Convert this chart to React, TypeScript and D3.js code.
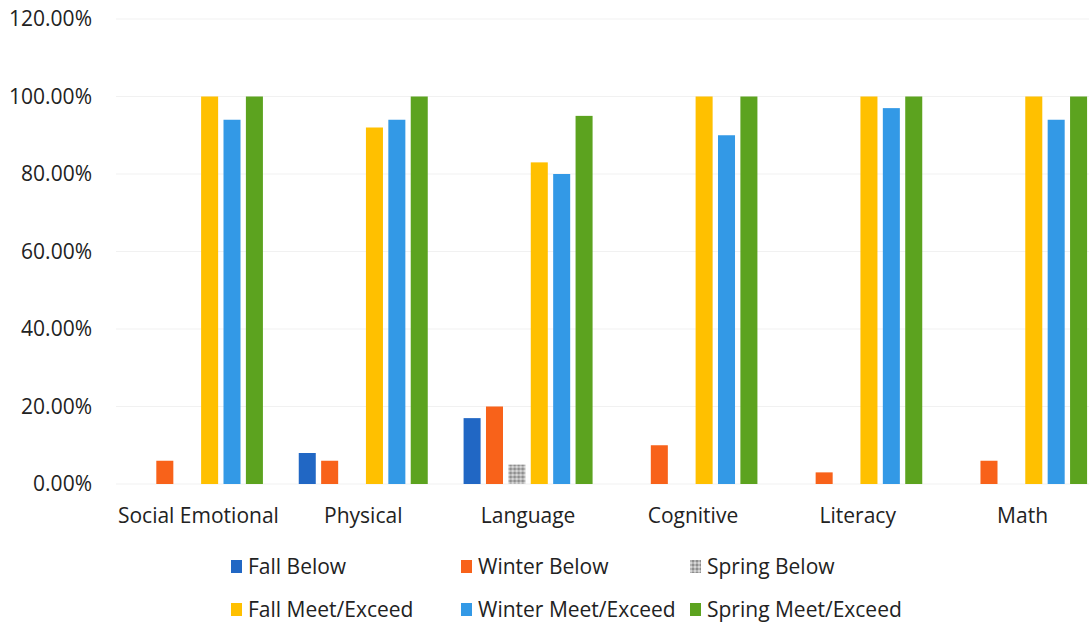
import React from "react";
import * as d3 from "d3";

// Assessment results by domain, share of children per season
const categories = ["Social Emotional", "Physical", "Language", "Cognitive", "Literacy", "Math"];
const seriesNames = [
  "Fall Below",
  "Winter Below",
  "Spring Below",
  "Fall Meet/Exceed",
  "Winter Meet/Exceed",
  "Spring Meet/Exceed",
];
const fallBelow = [0, 0.08, 0.17, 0, 0, 0];
const winterBelow = [0.06, 0.06, 0.2, 0.1, 0.03, 0.06];
const springBelow = [0, 0, 0.05, 0, 0, 0];
const fallMeet = [1.0, 0.92, 0.83, 1.0, 1.0, 1.0];
const winterMeet = [0.94, 0.94, 0.8, 0.9, 0.97, 0.94];
const springMeet = [1.0, 1.0, 0.95, 1.0, 1.0, 1.0];
const yTicks = [0, 0.2, 0.4, 0.6, 0.8, 1.0, 1.2];

const seriesValues = [fallBelow, winterBelow, springBelow, fallMeet, winterMeet, springMeet];
const colors = ["#2167c4", "#f8621a", "url(#grayCheck)", "#ffc000", "#3399e6", "#5ca31f"];

const W = 1089;
const H = 623;
const FONT = "'Open Sans', 'Noto Sans', sans-serif";
const FS = 21;

export default function App() {
  const y = d3.scaleLinear().domain([0, 1.2]).range([484, 19]);
  const x0 = d3.scaleBand<string>().domain(categories).range([116, 1105]);
  const x1 = d3
    .scaleBand<string>()
    .domain(seriesNames)
    .range([0, x0.bandwidth()])
    .paddingInner(0.24)
    .paddingOuter(0.8);
  const fmt = d3.format(".2%");

  // legend grid: three columns, two rows
  const legendCols = [231, 461, 690];
  const legendRows = [567, 610];

  return (
    <svg
      width={W}
      height={H}
      style={{ position: "absolute", left: 0, top: 0, background: "#fff" }}
      fontFamily={FONT}
    >
      <defs>
        <pattern id="grayCheck" width="4" height="4" patternUnits="userSpaceOnUse">
          <rect width="4" height="4" fill="#b4b4b4" />
          <rect width="2" height="2" fill="#8e8e8e" />
          <rect x="2" y="2" width="2" height="2" fill="#d6d6d6" />
        </pattern>
      </defs>

      {/* faint horizontal gridlines */}
      {yTicks.map((t) => (
        <line
          key={"g" + t}
          x1={116}
          x2={W}
          y1={y(t)}
          y2={y(t)}
          stroke="#f1f1f1"
          strokeWidth={1}
        />
      ))}

      {/* y-axis tick labels */}
      {yTicks.map((t) => (
        <text
          key={"t" + t}
          x={92}
          y={y(t)}
          dy="0.35em"
          textAnchor="end"
          fontSize={FS}
          fill="#222"
        >
          {fmt(t)}
        </text>
      ))}

      {/* bars */}
      {categories.map((c, ci) => (
        <g key={c} transform={`translate(${x0(c)},0)`}>
          {seriesNames.map((s, si) => {
            const v = seriesValues[si][ci];
            if (!v) return null;
            return (
              <rect
                key={s}
                x={x1(s)}
                y={y(v)}
                width={x1.bandwidth()}
                height={y(0) - y(v)}
                fill={colors[si]}
              />
            );
          })}
        </g>
      ))}

      {/* category labels */}
      {categories.map((c) => (
        <text
          key={"c" + c}
          x={(x0(c) as number) + x0.bandwidth() / 2}
          y={516}
          dy="0.35em"
          textAnchor="middle"
          fontSize={FS}
          fill="#222"
        >
          {c}
        </text>
      ))}

      {/* legend */}
      {seriesNames.map((s, i) => {
        const lx = legendCols[i % 3];
        const ly = legendRows[Math.floor(i / 3)];
        return (
          <g key={"l" + s}>
            <rect x={lx} y={ly - 7} width={11} height={13} fill={colors[i]} />
            <text x={lx + 17} y={ly} dy="0.35em" fontSize={FS} fill="#222">
              {s}
            </text>
          </g>
        );
      })}
    </svg>
  );
}
